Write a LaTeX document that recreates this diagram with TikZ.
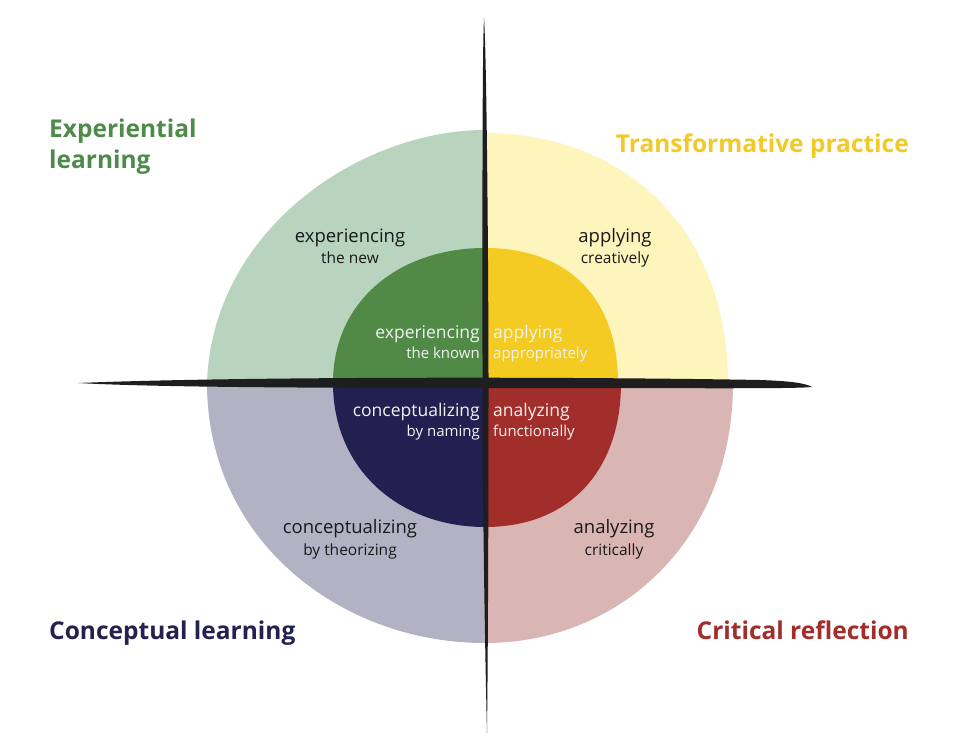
\documentclass[tikz,border=0pt]{standalone}
\usepackage{fontspec}
\setmainfont{Open Sans}
\definecolor{gOut}{HTML}{B8D4BE}
\definecolor{gIn}{HTML}{508A46}
\definecolor{gTit}{HTML}{4E8A4A}
\definecolor{yOut}{HTML}{FDF5BC}
\definecolor{yIn}{HTML}{F3CB22}
\definecolor{yTit}{HTML}{F3C928}
\definecolor{pOut}{HTML}{B2B2C4}
\definecolor{pIn}{HTML}{222050}
\definecolor{pTit}{HTML}{23214F}
\definecolor{rOut}{HTML}{D9B5B3}
\definecolor{rIn}{HTML}{A12E2B}
\definecolor{rTit}{HTML}{A12E2B}
\definecolor{ink}{HTML}{1E1E1E}
\definecolor{txtdark}{HTML}{1A1A1A}
\definecolor{txtlight}{HTML}{F2F2F2}
\tikzset{
  lbl/.style={inner sep=0pt, anchor=base, text=txtdark, font=\fontsize{18.5}{20}\selectfont},
  sublbl/.style={inner sep=0pt, anchor=base, text=txtdark, font=\fontsize{15.5}{17}\selectfont},
  inlblL/.style={inner sep=0pt, anchor=base east, text=txtlight, font=\fontsize{17.5}{19}\selectfont},
  insubL/.style={inner sep=0pt, anchor=base east, text=txtlight, font=\fontsize{15}{16}\selectfont},
  inlblR/.style={inner sep=0pt, anchor=base west, text=txtlight, font=\fontsize{17.5}{19}\selectfont},
  insubR/.style={inner sep=0pt, anchor=base west, text=txtlight, font=\fontsize{15}{16}\selectfont},
  titleL/.style={inner sep=0pt, anchor=base west, font=\fontsize{24.5}{26}\selectfont\bfseries},
  titleR/.style={inner sep=0pt, anchor=base east, font=\fontsize{24.5}{26}\selectfont\bfseries},
}
\begin{document}
\begin{tikzpicture}[x=1pt,y=-1pt]
\useasboundingbox (0,0) rectangle (958,755);
\fill[white] (0,0) rectangle (958,755);
% outer quadrants
\fill[gOut] (485,383) -- (207,383) .. controls (212,230) and (360,130) .. (485,130) -- cycle;
\fill[yOut] (485,383) -- (485,133) .. controls (625,133) and (728,230) .. (728,383) -- cycle;
\fill[pOut] (485,383) -- (207,383) .. controls (207,540) and (340,643) .. (485,643) -- cycle;
\fill[rOut] (485,383) -- (733,383) .. controls (733,540) and (620,643) .. (485,643) -- cycle;
% inner quadrants
\fill[gIn] (485,383) -- (333,383) .. controls (333,300) and (400,248) .. (485,248) -- cycle;
\fill[yIn] (485,383) -- (485,248) .. controls (570,248) and (618,300) .. (618,383) -- cycle;
\fill[pIn] (485,383) -- (333,383) .. controls (333,470) and (400,527) .. (485,527) -- cycle;
\fill[rIn] (485,383) -- (621,383) .. controls (621,470) and (570,527) .. (485,527) -- cycle;
% axes (brush strokes)
\fill[ink] (78,383) .. controls (250,376) and (600,377) .. (760,380)
  .. controls (790,381) and (805,383) .. (812,387)
  .. controls (790,389) and (700,388) .. (485,388)
  .. controls (300,388) and (150,387) .. (78,383) -- cycle;
\fill[ink] (484,18) .. controls (487,60) and (488.5,300) .. (488.5,383)
  .. controls (488.5,500) and (488,650) .. (487,733)
  .. controls (485,650) and (482.5,500) .. (482.5,383)
  .. controls (482.5,250) and (482,60) .. (484,18) -- cycle;
% outer labels
\node[lbl] (en1) at (350,242) {experiencing};
\node[sublbl] (en2) at (350,263) {the new};
\node[lbl] (ac1) at (615,242) {applying};
\node[sublbl] (ac2) at (615,263) {creatively};
\node[lbl] (ct1) at (350,533) {conceptualizing};
\node[sublbl] (ct2) at (350,555) {by theorizing};
\node[lbl] (cr1) at (614,533) {analyzing};
\node[sublbl] (cr2) at (614,555) {critically};
% inner labels
\node[inlblL] (ek1) at (480,338) {experiencing};
\node[insubL] (ek2) at (480,358) {the known};
\node[inlblR] (aa1) at (493,338) {applying};
\node[insubR] (aa2) at (493,358) {appropriately};
\node[inlblL] (cn1) at (480,416) {conceptualizing};
\node[insubL] (cn2) at (480,436) {by naming};
\node[inlblR] (af1) at (493,416) {analyzing};
\node[insubR] (af2) at (493,436) {functionally};
% titles
\node[titleL, text=gTit] (t1) at (49,137) {Experiential};
\node[titleL, text=gTit] (t1b) at (49,168) {learning};
\node[titleR, text=yTit] (t2) at (909,152) {Transformative practice};
\node[titleL, text=pTit] (t3) at (49,639) {Conceptual learning};
\node[titleR, text=rTit] (t4) at (909,639) {Critical reflection};
\end{tikzpicture}
\end{document}
